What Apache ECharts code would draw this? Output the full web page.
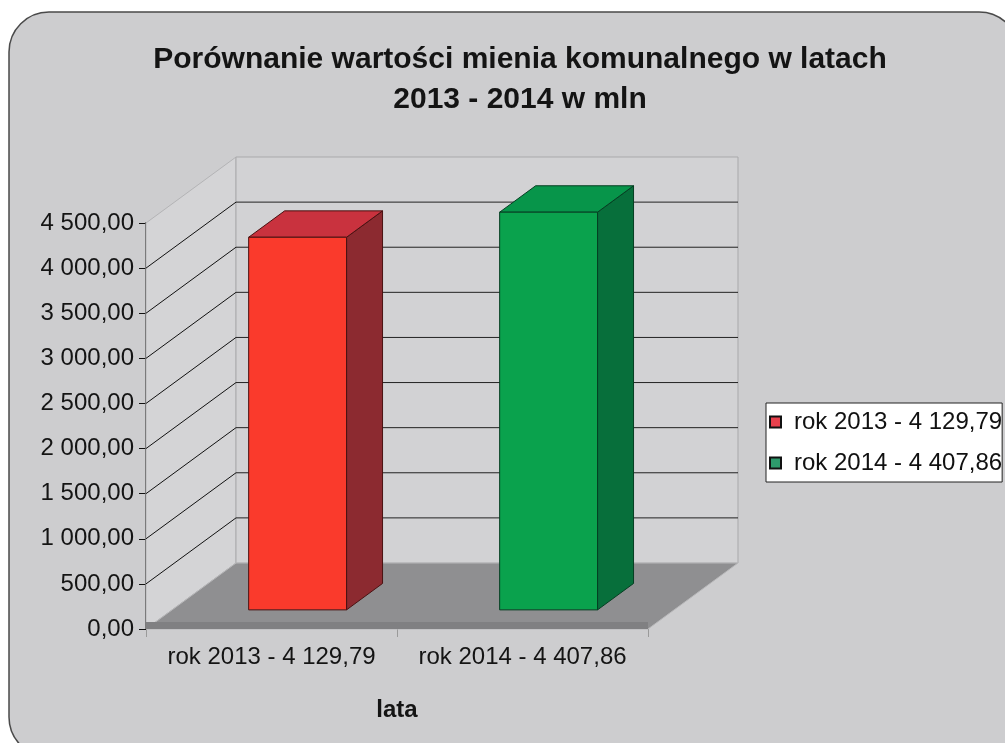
<!DOCTYPE html>
<html>
<head>
<meta charset="utf-8">
<script src="https://cdn.jsdelivr.net/npm/echarts@6/dist/echarts.min.js"></script>
<style>
  html, body { margin: 0; padding: 0; background: #fff; }
  #wykres { width: 1005px; height: 743px; }
</style>
</head>
<body>
<div id="wykres"></div>
<script>
var categories = ['rok 2013 - 4 129,79', 'rok 2014 - 4 407,86']
var seriesNames = ['rok 2013 - 4 129,79', 'rok 2014 - 4 407,86']
var values2013 = [4129.79]
var values2014 = [4407.86]
var yTicks = [0, 500, 1000, 1500, 2000, 2500, 3000, 3500, 4000, 4500]

var FONT = '"Liberation Sans", Arial, sans-serif'
// glebokosc wykresu 3D w pikselach
var DX = 90
var DY = -66
var BAR_FRONT = 0.29
var BAR_BACK = 0.69

var myChart = echarts.init(document.getElementById('wykres'))

function fmt(v) {
  var s = v.toFixed(2).split('.')
  return s[0].replace(/\B(?=(\d{3})+(?!\d))/g, ' ') + ',' + s[1]
}

function poly(points, fill, stroke, lw) {
  return {
    type: 'polygon',
    shape: { points: points },
    style: { fill: fill, stroke: stroke || null, lineWidth: lw || 1 }
  }
}

function line(x1, y1, x2, y2, color) {
  return {
    type: 'line',
    shape: { x1: x1, y1: y1, x2: x2, y2: y2 },
    style: { stroke: color, lineWidth: 1 }
  }
}

// sciany i podloga
function renderWalls(params, api) {
  var cs = params.coordSys
  var x0 = cs.x, x1 = cs.x + cs.width
  var yt = cs.y, yb = cs.y + cs.height
  return {
    type: 'group',
    children: [
      poly([[x0, yb], [x0, yt], [x0 + DX, yt + DY], [x0 + DX, yb + DY]], '#d4d4d6', '#b4b4b6'),
      poly([[x0 + DX, yt + DY], [x1 + DX, yt + DY], [x1 + DX, yb + DY], [x0 + DX, yb + DY]], '#d2d2d4', '#a9a9ab'),
      poly([[x0, yb], [x1, yb], [x1 + DX, yb + DY], [x0 + DX, yb + DY]], '#8f8f91', '#b8b8ba'),
      poly([[x0, yb - 7], [x1, yb - 7], [x1, yb], [x0, yb]], '#808082', null)
    ]
  }
}

// linie siatki na scianach
function renderGrid(params, api) {
  var cs = params.coordSys
  var x0 = cs.x, x1 = cs.x + cs.width
  var v = api.value(1)
  if (v <= 0 || v >= 4500) return null
  var y = api.coord([0, v])[1]
  return {
    type: 'group',
    children: [
      line(x0, y, x0 + DX, y + DY, '#111111'),
      line(x0 + DX, y + DY, x1 + DX, y + DY, '#222222')
    ]
  }
}

function makeBar(front, top, side, edge) {
  return function(params, api) {
    var idx = api.value(0)
    var val = api.value(1)
    var cx = api.coord([idx, 0])[0]
    var yBot = api.coord([idx, 0])[1]
    var yTop = api.coord([idx, val])[1]
    var w = api.size([1, 0])[0] * 0.39
    var ox1 = DX * BAR_FRONT, oy1 = DY * BAR_FRONT
    var ox2 = DX * BAR_BACK, oy2 = DY * BAR_BACK
    var fl = cx - w / 2 + ox1
    var fr = cx + w / 2 + ox1
    var dx = ox2 - ox1, dy = oy2 - oy1
    return {
      type: 'group',
      children: [
        poly([[fr, yTop + oy1], [fr + dx, yTop + oy1 + dy], [fr + dx, yBot + oy1 + dy], [fr, yBot + oy1]], side, edge),
        poly([[fl, yTop + oy1], [fr, yTop + oy1], [fr + dx, yTop + oy1 + dy], [fl + dx, yTop + oy1 + dy]], top, edge),
        poly([[fl, yTop + oy1], [fr, yTop + oy1], [fr, yBot + oy1], [fl, yBot + oy1]], front, edge)
      ]
    }
  }
}

var option = {
  backgroundColor: '#ffffff',
  animation: false,
  graphic: [
    {
      type: 'rect',
      z: -10,
      shape: { x: 9, y: 12, width: 1010, height: 745, r: 40 },
      style: { fill: '#cdcdcf', stroke: '#4a4a4a', lineWidth: 1.5 }
    }
  ],
  title: {
    text: 'Porównanie wartości mienia komunalnego w latach\n2013 - 2014 w mln',
    left: 515,
    top: 35,
    textAlign: 'center',
    textStyle: {
      fontFamily: FONT,
      fontSize: 30,
      fontWeight: 'bold',
      color: '#141414',
      lineHeight: 40
    }
  },
  legend: {
    orient: 'vertical',
    left: 766,
    top: 403,
    padding: [7, 0, 7, 3],
    itemGap: 17,
    itemWidth: 11,
    itemHeight: 11,
    backgroundColor: '#ffffff',
    borderColor: '#222',
    borderWidth: 1,
    borderRadius: 0,
    textStyle: { fontFamily: FONT, fontSize: 24, color: '#111', padding: [0, 0, 0, 8] },
    data: [
      { name: seriesNames[0], icon: 'rect', itemStyle: { color: '#e8404c', borderColor: '#111', borderWidth: 2 } },
      { name: seriesNames[1], icon: 'rect', itemStyle: { color: '#2e9a6c', borderColor: '#111', borderWidth: 2 } }
    ]
  },
  grid: { left: 146, right: 357, top: 223, bottom: 114 },
  xAxis: {
    type: 'category',
    data: categories,
    name: 'lata',
    nameLocation: 'middle',
    nameGap: 69,
    nameTextStyle: { fontFamily: FONT, fontSize: 24, fontWeight: 'bold', color: '#141414' },
    axisLine: { show: false },
    axisTick: { show: true, length: 8, lineStyle: { color: '#9a9a9a' } },
    axisLabel: {
      interval: 0,
      hideOverlap: false,
      fontFamily: FONT,
      fontSize: 24,
      color: '#141414',
      margin: 16
    },
    splitLine: { show: false }
  },
  yAxis: {
    type: 'value',
    min: 0,
    max: 4500,
    interval: 500,
    axisLine: { show: true, lineStyle: { color: '#111', width: 1.5 } },
    axisTick: { show: true, length: 7, lineStyle: { color: '#111' } },
    axisLabel: {
      fontFamily: FONT,
      fontSize: 24,
      color: '#141414',
      margin: 12,
      formatter: function(v) { return fmt(v) }
    },
    splitLine: { show: false }
  },
  series: [
    {
      name: 'sciany',
      type: 'custom',
      z: 1,
      silent: true,
      renderItem: renderWalls,
      data: [[0, 0]]
    },
    {
      name: 'siatka',
      type: 'custom',
      z: 2,
      silent: true,
      renderItem: renderGrid,
      data: yTicks.map(function(v) { return [0, v] })
    },
    {
      name: seriesNames[0],
      type: 'custom',
      z: 3,
      itemStyle: { color: '#e8404c' },
      renderItem: makeBar('#fa3a2c', '#c9323e', '#8c2a30', '#4a1212'),
      data: values2013.map(function(v) { return [0, v] })
    },
    {
      name: seriesNames[1],
      type: 'custom',
      z: 3,
      itemStyle: { color: '#2e9a6c' },
      renderItem: makeBar('#0aa24d', '#07954a', '#076f3b', '#053e22'),
      data: values2014.map(function(v) { return [1, v] })
    }
  ]
}

myChart.setOption(option)
window.onresize = function() {
  myChart.resize()
}
</script>
</body>
</html>
